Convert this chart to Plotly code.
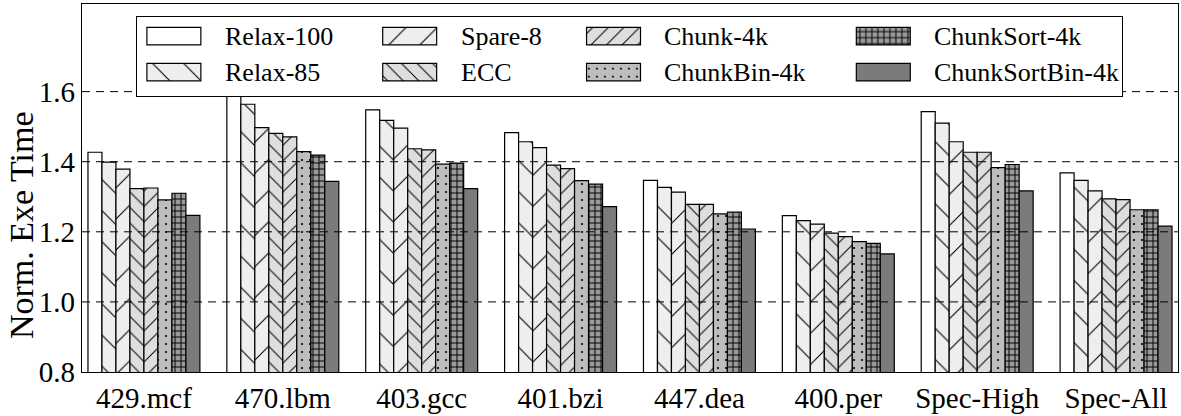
import plotly.graph_objects as go

categories = ["429.mcf", "470.lbm", "403.gcc", "401.bzi", "447.dea", "400.per", "Spec-High", "Spec-All"]

series_names = ["Relax-100", "Relax-85", "Spare-8", "ECC", "Chunk-4k",
                "ChunkBin-4k", "ChunkSort-4k", "ChunkSortBin-4k"]

relax_100 = [1.427, 1.630, 1.548, 1.483, 1.347, 1.246, 1.543, 1.368]
relax_85 = [1.399, 1.564, 1.518, 1.457, 1.327, 1.232, 1.510, 1.347]
spare_8 = [1.379, 1.497, 1.496, 1.440, 1.313, 1.222, 1.457, 1.317]
ecc = [1.323, 1.481, 1.437, 1.390, 1.278, 1.196, 1.427, 1.294]
chunk_4k = [1.325, 1.471, 1.434, 1.380, 1.278, 1.186, 1.427, 1.292]
chunkbin_4k = [1.291, 1.429, 1.393, 1.346, 1.251, 1.172, 1.383, 1.263]
chunksort_4k = [1.310, 1.419, 1.396, 1.336, 1.256, 1.167, 1.392, 1.263]
chunksortbin_4k = [1.247, 1.344, 1.323, 1.272, 1.208, 1.137, 1.317, 1.216]

series_values = [relax_100, relax_85, spare_8, ecc, chunk_4k,
                 chunkbin_4k, chunksort_4k, chunksortbin_4k]

y_tick_vals = [0.8, 1.0, 1.2, 1.4, 1.6]
y_tick_text = ["0.8", "1.0", "1.2", "1.4", "1.6"]
y_title = "Norm. Exe Time"

# styles
fills = ["#ffffff", "#eeeeee", "#eeeeee", "#dedede", "#dedede", "#bdbdbd", "#9a9a9a", "#7b7b7b"]
shapes_ = ["", "\\", "/", "\\", "/", ".", "+", ""]
sizes = [10, 22, 22, 11, 11, 8, 6, 10]
solid = [0.1, 0.05, 0.05, 0.09, 0.09, 0.06, 0.3, 0.1]

FONT = "'Liberation Serif', 'Times New Roman', Times, serif"


def marker_for(i):
    return dict(
        color=fills[i],
        line=dict(color="black", width=1.2),
        pattern=dict(shape=shapes_[i], size=sizes[i], solidity=solid[i],
                     fgcolor="black", bgcolor=fills[i], fillmode="replace"),
    )


fig = go.Figure()

for i, name in enumerate(series_names):
    fig.add_trace(go.Bar(
        x=categories, y=series_values[i], name=name,
        marker=marker_for(i), showlegend=False,
        xaxis="x", yaxis="y",
    ))

# ---- custom legend drawn in an inset axis (pixel-like units) ----
LEG_W, LEG_H = 986, 82
col_left = [10, 246, 450, 720]
row_bottom = [53, 16]
SW_W, SW_H = 54, 18
TEXT_OFF = 76

fig.add_trace(go.Bar(
    x=[0], y=[LEG_H], base=[0], width=[LEG_W], offset=0,
    marker=dict(color="white", line=dict(width=0)),
    showlegend=False, hoverinfo="skip", xaxis="x2", yaxis="y2",
))

annotations = []
for i, name in enumerate(series_names):
    c, r = i // 2, i % 2
    fig.add_trace(go.Bar(
        x=[col_left[c]], y=[SW_H], base=[row_bottom[r]], width=[SW_W], offset=0,
        marker=marker_for(i), showlegend=False, hoverinfo="skip",
        xaxis="x2", yaxis="y2",
    ))
    annotations.append(dict(
        x=col_left[c] + TEXT_OFF, y=row_bottom[r] + SW_H / 2,
        xref="x2", yref="y2", text=name, showarrow=False,
        xanchor="left", yanchor="middle",
        font=dict(family=FONT, size=26, color="black"),
    ))

# y-axis title
annotations.append(dict(
    x=-0.0545, y=0.40, xref="paper", yref="paper", text=y_title,
    textangle=-90, showarrow=False, xanchor="center", yanchor="middle",
    font=dict(family=FONT, size=34, color="black"),
))

# dashed lines drawn above the bars (except where the legend sits)
shapes = []
for v in y_tick_vals[1:]:
    shapes.append(dict(
        type="line", xref="x domain", yref="y", x0=0, x1=1, y0=v, y1=v,
        line=dict(color="black", width=1, dash="8px,6px"),
        layer="above" if v < 1.55 else "below",
    ))

fig.update_layout(
    width=1181, height=416,
    margin=dict(l=82, r=2, t=4, b=34),
    paper_bgcolor="white", plot_bgcolor="white",
    barmode="group", bargap=0.194, bargroupgap=0,
    font=dict(family=FONT, color="black"),
    shapes=shapes, annotations=annotations,
    xaxis=dict(
        domain=[0, 1], range=[-0.446, 7.446], type="category",
        showline=True, mirror=True, linecolor="black", linewidth=1.3,
        ticks="", showgrid=False,
        tickfont=dict(family=FONT, size=29, color="black"),
    ),
    yaxis=dict(
        domain=[0, 1], range=[0.8, 1.85],
        tickvals=y_tick_vals, ticktext=y_tick_text,
        showline=True, mirror=True, linecolor="black", linewidth=1.3,
        ticks="", showgrid=False, zeroline=False,
        tickfont=dict(family=FONT, size=29, color="black"),
    ),
    xaxis2=dict(
        domain=[0.0501, 0.949], range=[0, LEG_W], anchor="y2",
        showline=True, mirror=True, linecolor="black", linewidth=1.3,
        showticklabels=False, ticks="", showgrid=False, zeroline=False,
    ),
    yaxis2=dict(
        domain=[0.7487, 0.9656], range=[0, LEG_H], anchor="x2",
        showline=True, mirror=True, linecolor="black", linewidth=1.3,
        showticklabels=False, ticks="", showgrid=False, zeroline=False,
    ),
)

fig.write_html("out.html")
